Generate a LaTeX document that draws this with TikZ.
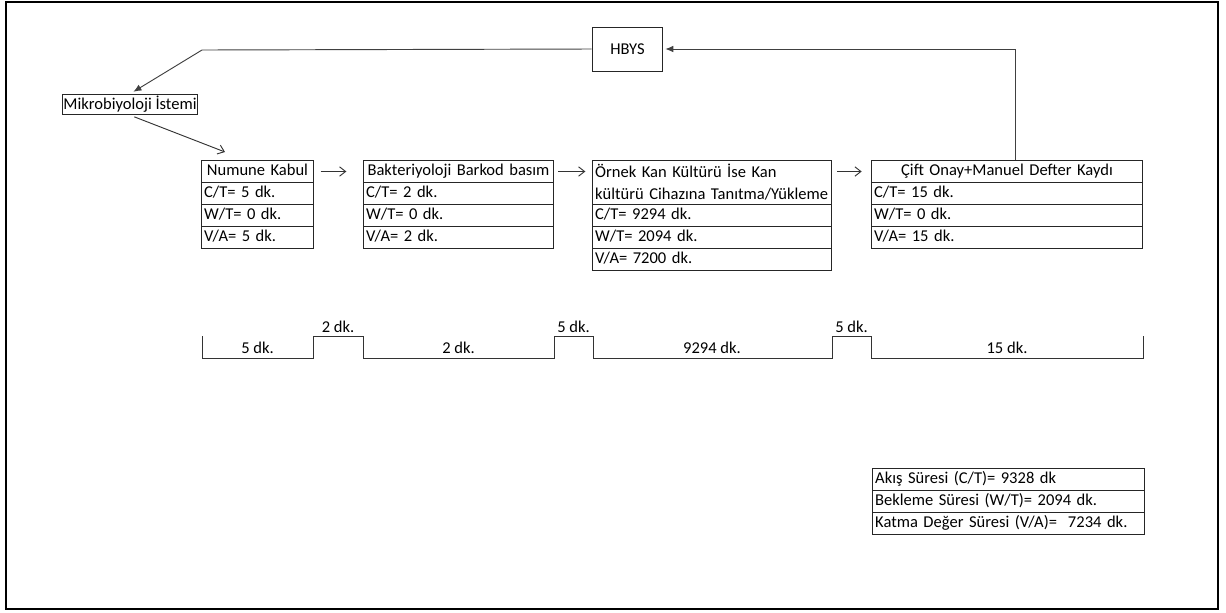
\documentclass[tikz,border=0pt]{standalone}
\usepackage{fontspec}
\setmainfont{Carlito}
\usetikzlibrary{arrows.meta}

\begin{document}
\begin{tikzpicture}[x=0.75pt,y=-0.75pt, every node/.style={font=\fontsize{12.4}{16.5}\selectfont},
  cell/.style={draw=black!85,line width=0.75pt,anchor=north west,text width=#1,inner xsep=2pt,inner ysep=0pt,align=left},
  row/.style={cell=#1,minimum height=16.5pt,text height=8.8pt,text depth=2.8pt},
  head/.style={row=#1,align=center},
  flow/.style={-{Straight Barb[length=4.5pt,width=7pt]},line width=0.7pt,black!80},
  back/.style={-{Latex[length=6pt,width=5pt]},line width=0.7pt,black!75},
  tline/.style={black!80,line width=0.75pt}]
\useasboundingbox (0,0) rectangle (1226,612);
\draw[line width=1.5pt] (6,2) rectangle (1218,609);
% information flow
\node[draw=black!85,line width=0.75pt,minimum width=53pt,minimum height=33pt] (hbys) at (627.5,49) {HBYS};
\node[draw=black!85,line width=0.75pt,inner xsep=1pt,inner ysep=1.5pt] (istem) at (130,104.5) {Mikrobiyoloji İstemi};
\coordinate (hbk) at (202,50);
\coordinate (nkin) at (225,152);
% process boxes
\node[head=80pt] (nk) at (201,160) {Numune Kabul};
\node[row=80pt] (nk1) at (201,182) {C/T= 5 dk.};
\node[row=80pt] (nk2) at (201,204) {W/T= 0 dk.};
\node[row=80pt] (nk3) at (201,226) {V/A= 5 dk.};
\node[head=138.5pt] (bb) at (363,160) {Bakteriyoloji Barkod basım};
\node[row=138.5pt] (bb1) at (363,182) {C/T= 2 dk.};
\node[row=138.5pt] (bb2) at (363,204) {W/T= 0 dk.};
\node[row=138.5pt] (bb3) at (363,226) {V/A= 2 dk.};
\node[cell=175.25pt,minimum height=33pt] (kk) at (592,160) {Örnek Kan Kültürü İse Kan\\kültürü Cihazına Tanıtma/Yükleme};
\node[row=175.25pt] (kk1) at (592,204) {C/T= 9294 dk.};
\node[row=175.25pt] (kk2) at (592,226) {W/T= 2094 dk.};
\node[row=175.25pt] (kk3) at (592,248) {V/A= 7200 dk.};
\node[head=199.25pt] (co) at (871,160) {Çift Onay+Manuel Defter Kaydı};
\node[row=199.25pt] (co1) at (871,182) {C/T= 15 dk.};
\node[row=199.25pt] (co2) at (871,204) {W/T= 0 dk.};
\node[row=199.25pt] (co3) at (871,226) {V/A= 15 dk.};
% connectors
\draw[back,shorten >=3pt] (hbys.west) -- (hbk) -- (istem.north);
\draw[flow,shorten <=3.5pt] (istem.south) -- (nkin);
\draw[flow,shorten <=5pt,shorten >=12.5pt] (nk.east) -- (bb.west);
\draw[flow,shorten <=3pt,shorten >=5pt] (bb.east) -- (kk.west |- bb);
\draw[flow,shorten <=4pt,shorten >=7pt] (kk.east |- co) -- (co.west);
\draw[back,shorten >=1.5pt] ([xshift=6.4pt]co.north) |- (hbys.east);
% time line
\draw[tline] (202,336) -- (202,358) -- (313,358) -- (313,336) -- (363,336) -- (363,358)
  -- (554,358) -- (554,336) -- (593,336) -- (593,358) -- (832,358) -- (832,336)
  -- (871,336) -- (871,358) -- (1143,358) -- (1143,336);
\node (t1) at (257.5,348) {5 dk.};
\node (w1) at (338,327) {2 dk.};
\node (t2) at (458.5,348) {2 dk.};
\node (w2) at (573.5,327) {5 dk.};
\node (t3) at (712,348) {9294 dk.};
\node (w3) at (851.5,327) {5 dk.};
\node (t4) at (1007,348) {15 dk.};
% totals
\node[row=200pt] (ak) at (872,468) {Akış Süresi (C/T)= 9328 dk};
\node[row=200pt] (bs) at (872,490) {Bekleme Süresi (W/T)= 2094 dk.};
\node[row=200pt] (kd) at (872,512) {Katma Değer Süresi (V/A)=~ 7234 dk.};
\end{tikzpicture}
\end{document}
